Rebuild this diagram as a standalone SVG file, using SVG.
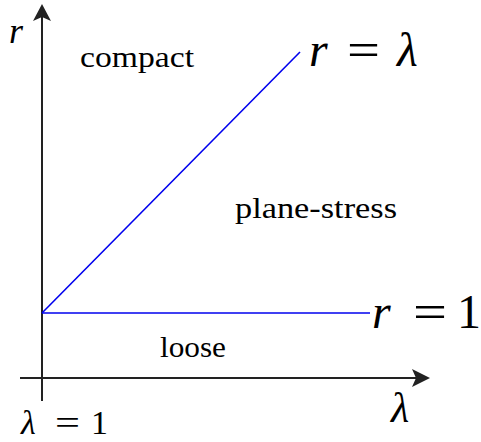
<svg xmlns="http://www.w3.org/2000/svg" width="481" height="442" viewBox="0 0 481 442">
<style>
.ax{stroke:#222;stroke-width:2;fill:none}
.ah{fill:#222}
.bl{stroke:#0000ee;stroke-width:1.6;fill:none}
.t{font-family:"Liberation Serif","DejaVu Serif",serif;fill:#000;font-size:29px}
.m{font-family:"Liberation Serif","DejaVu Serif",serif;font-style:italic;fill:#000}
.n{font-family:"Liberation Serif","DejaVu Serif",serif;fill:#000}
</style>
<g id="connectors">
<line class="ax" x1="42" y1="401" x2="42" y2="10"/>
<path class="ah" d="M42,4 L33,21 L42,17 L51,21 Z"/>
<line class="ax" x1="20" y1="378" x2="424" y2="378"/>
<path class="ah" d="M430,378 L412,369 L416,378 L412,387 Z"/>
<line class="bl" x1="42" y1="313" x2="300" y2="52"/>
<line class="bl" x1="42" y1="313" x2="370" y2="313"/>
</g>
<g id="axis-r"><text class="m" x="9" y="43" font-size="36">r</text></g>
<g id="compact"><text class="t" x="80" y="67" textLength="114" lengthAdjust="spacingAndGlyphs">compact</text></g>
<g id="r-eq-lambda">
<text class="m" x="309" y="66" font-size="48">r</text>
<text class="n" x="347" y="66" font-size="48" textLength="33" lengthAdjust="spacingAndGlyphs">=</text>
<text class="m" x="397" y="66" font-size="48">λ</text>
</g>
<g id="plane-stress"><text class="t" x="235" y="218" textLength="162" lengthAdjust="spacingAndGlyphs">plane-stress</text></g>
<g id="r-eq-1">
<text class="m" x="372" y="328" font-size="48">r</text>
<text class="n" x="413" y="328" font-size="48" textLength="34" lengthAdjust="spacingAndGlyphs">=</text>
<text class="n" x="457" y="328" font-size="48">1</text>
</g>
<g id="loose"><text class="t" x="160" y="357" textLength="66" lengthAdjust="spacingAndGlyphs">loose</text></g>
<g id="lambda-eq-1">
<text class="m" x="21" y="434" font-size="34">λ</text>
<text class="n" x="55" y="434" font-size="34" textLength="25" lengthAdjust="spacingAndGlyphs">=</text>
<text class="n" x="91" y="434" font-size="34">1</text>
</g>
<g id="axis-lambda"><text class="m" x="391" y="422" font-size="42">λ</text></g>
</svg>
